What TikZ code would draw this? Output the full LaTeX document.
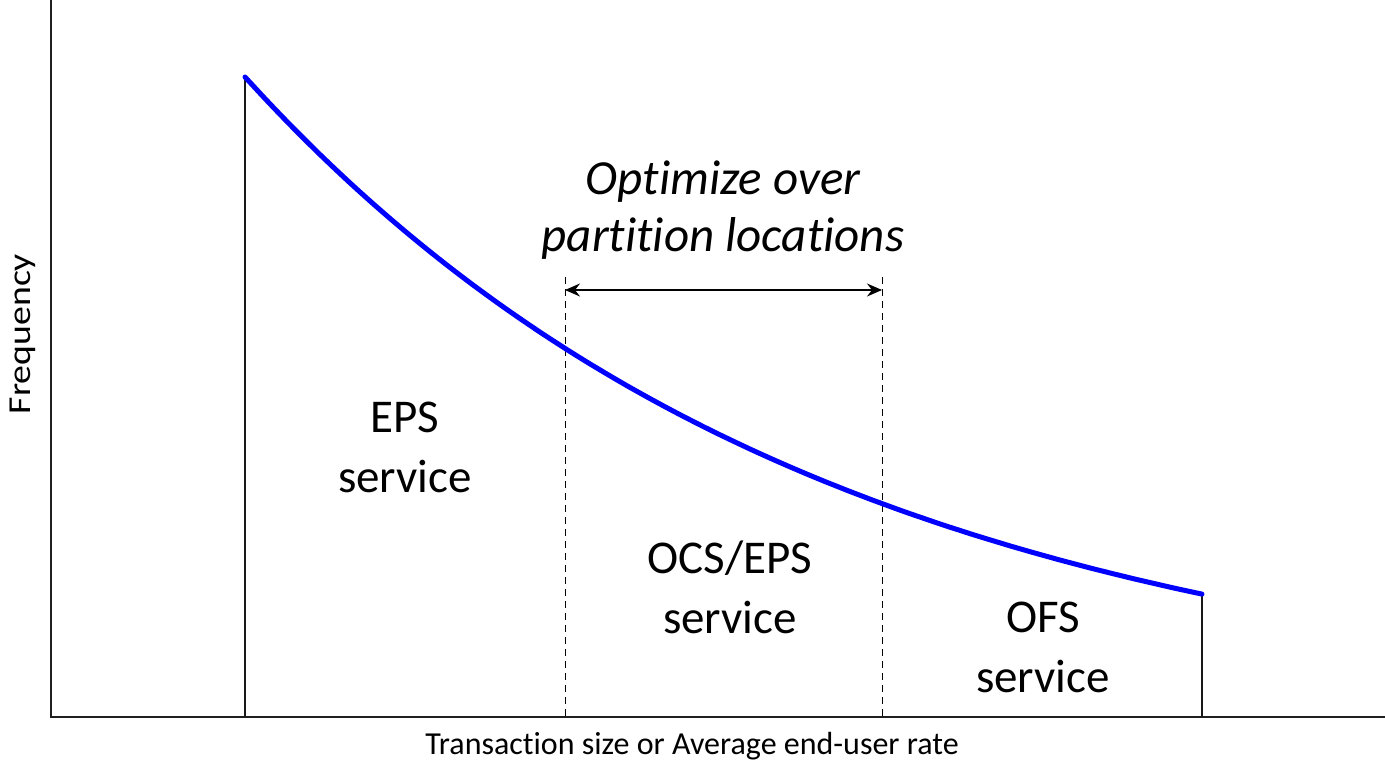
\documentclass[tikz,border=0pt]{standalone}
\usepackage{fontspec}
\setmainfont{Carlito}[Ligatures={NoCommon,NoRare,NoContextual}]
\usetikzlibrary{arrows.meta}
% keep "t" and "i" as separate glyphs (no ti ligature)
\newcommand{\tisplit}{t\kern0pt i}
\tikzset{
  axis/.style={line width=2pt, draw=black!88},
  edge/.style={line width=1.3pt, draw=black!90},
  partline/.style={line width=1pt, dash pattern=on 7pt off 5pt},
  freq/.style={line width=5pt, draw={rgb,255:red,0;green,0;blue,255}, line cap=round},
  region/.style={align=center, font=\fontsize{47}{60}\selectfont},
  axislabel/.style={font=\fontsize{32}{38}\selectfont},
  span/.style={line width=1.3pt, {Stealth[length=15pt,width=13pt,inset=5pt]}-{Stealth[length=15pt,width=13pt,inset=5pt]}}
}
\begin{document}
\begin{tikzpicture}[x=1pt,y=-1pt]
\useasboundingbox (0,0) rectangle (1385,762);
% axes
\coordinate (o) at (51,717);
\coordinate (ytop) at (51,0);
\coordinate (xend) at (1385,717);
\draw[axis] (ytop) -- (o) -- (xend);
% end points of the frequency curve and the partition positions
\coordinate (c0) at (245,77);
\coordinate (b0) at (245,717);
\coordinate (c3) at (1202,593.5);
\coordinate (b3) at (1202,717);
\coordinate (p1) at (565,277);
\coordinate (q1) at (565,717);
\coordinate (p2) at (882,277);
\coordinate (q2) at (882,717);
\coordinate (a1) at (565,290);
\coordinate (a2) at (882,290);
% support boundaries
\draw[edge] (b0) -- (c0);
\draw[edge] (b3) -- (c3);
\draw[partline] (p1) -- (q1);
\draw[partline] (p2) -- (q2);
% frequency curve
\draw[freq] plot[domain=245:1202, samples=120, smooth] (\x, {717-640*exp(-0.001718*(\x-245))});
% range of the partition search
\draw[span] (a1) -- (a2);
% labels
\node[region, font=\fontsize{49}{57}\selectfont\itshape] (opt) at (723,210) {Op\tisplit mize over\\par\tisplit\tisplit on loca\tisplit ons};
\node[region] (eps) at (405,447) {EPS\\service};
\node[region] (ocs) at (730,587) {OCS/EPS\\service};
\node[region] (ofs) at (1043,647) {OFS\\service};
\node[axislabel] (xl) at (692,746) {Transac\tisplit on size or Average end-user rate};
\node[axislabel, rotate=90, xscale=1.18] (yl) at (23,334) {Frequency};
\end{tikzpicture}
\end{document}
